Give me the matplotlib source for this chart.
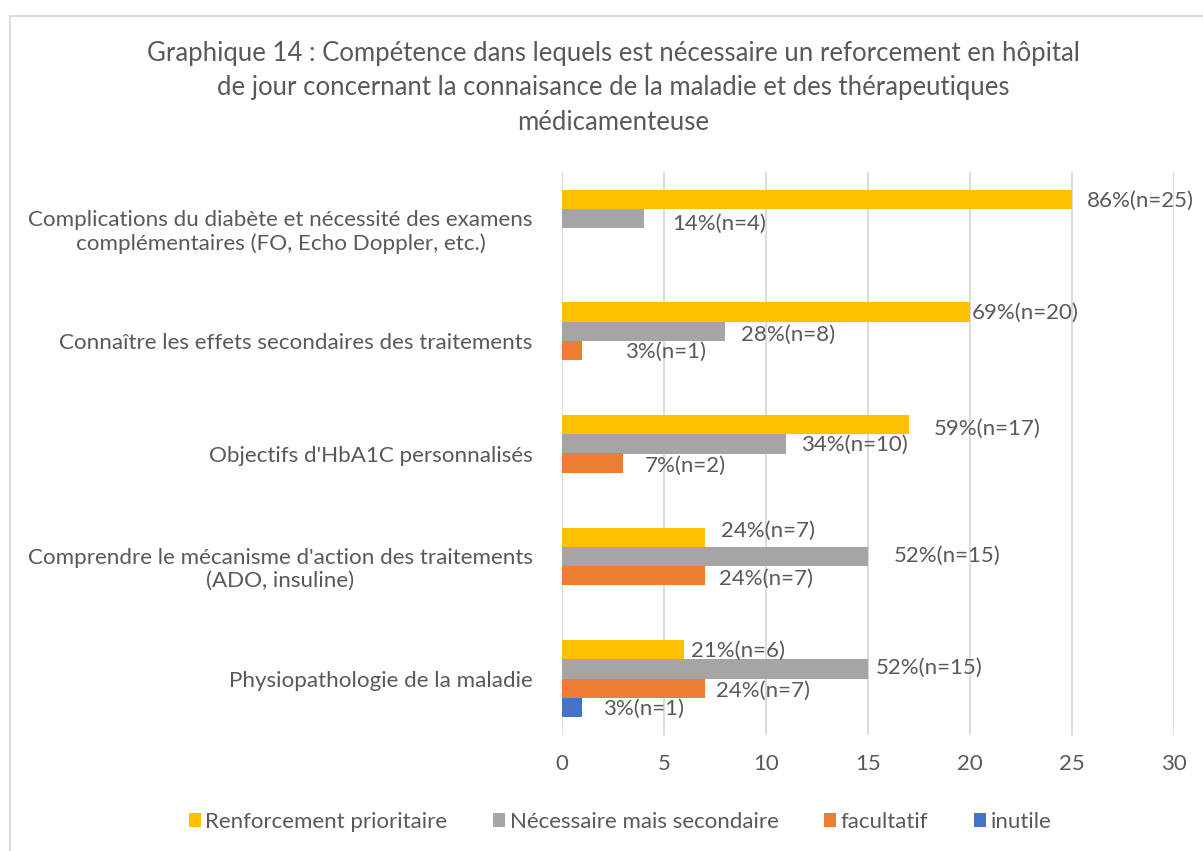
import matplotlib
matplotlib.use("Agg")
import matplotlib.pyplot as plt
from matplotlib.patches import Patch
from matplotlib.lines import Line2D
import numpy as np

plt.rcParams['font.family'] = ['Lato', 'DejaVu Sans']

# categories, top to bottom
categories = [
    "Complications du diabète et nécessité des examens\ncomplémentaires (FO, Echo Doppler, etc.)",
    "Connaître les effets secondaires des traitements",
    "Objectifs d'HbA1C personnalisés",
    "Comprendre le mécanisme d'action des traitements\n(ADO, insuline)",
    "Physiopathologie de la maladie",
]
series_names = ["Renforcement prioritaire", "Nécessaire mais secondaire", "facultatif", "inutile"]
# bar lengths as drawn
prioritaire = [25, 20, 17, 7, 6]
secondaire = [4, 8, 11, 15, 15]
facultatif = [0, 1, 3, 7, 7]
inutile = [0, 0, 0, 0, 1]
# data labels as printed
labels_prio = ["86%(n=25)", "69%(n=20)", "59%(n=17)", "24%(n=7)", "21%(n=6)"]
labels_sec = ["14%(n=4)", "28%(n=8)", "34%(n=10)", "52%(n=15)", "52%(n=15)"]
labels_fac = ["", "3%(n=1)", "7%(n=2)", "24%(n=7)", "24%(n=7)"]
labels_inu = ["", "", "", "", "3%(n=1)"]

colors = ["#FFC000", "#A5A5A5", "#ED7D31", "#4472C4"]
text_col = "#595959"

# label placement (x centre in data units, y shift in pixels downwards)
lab_x = [
    [28.33, 22.70, 20.83, 10.10, 8.63],
    [7.70, 11.08, 14.31, 18.87, 17.99],
    [0, 5.05, 6.03, 10.0, 9.85],
    [0, 0, 0, 0, 4.02],
]
lab_dy = [
    [2, 1, 4, -6, 1],
    [5, 4, 1, -1, -1],
    [0, 1, 3, 3, 3],
    [0, 0, 0, 0, 1],
]

W, H = 1203, 851
fig = plt.figure(figsize=(W / 100, H / 100), dpi=100)
ax = fig.add_axes([562 / W, 1 - 735 / H, (1174 - 562) / W, (735 - 172) / H])

n = len(categories)
ypos = np.arange(n)[::-1]
h = 19.3 / 112.6
offs = [1.5 * h, 0.5 * h, -0.5 * h, -1.5 * h]

all_series = [prioritaire, secondaire, facultatif, inutile]
all_labels = [labels_prio, labels_sec, labels_fac, labels_inu]
for s, vals in enumerate(all_series):
    ax.barh(ypos + offs[s], vals, height=h, color=colors[s], zorder=3)
    for i, txt in enumerate(all_labels[s]):
        if not txt:
            continue
        ax.text(lab_x[s][i], ypos[i] + offs[s] - lab_dy[s][i] / 112.6, txt,
                ha="center", va="center", fontsize=16, color=text_col, zorder=4)

ax.set_xlim(0, 30)
ax.set_ylim(-0.5, n - 0.5)
ax.set_xticks(range(0, 31, 5))
ax.set_yticks(ypos)
ax.set_yticklabels(categories, fontsize=16.1, color=text_col, multialignment="center")
ax.tick_params(axis="x", length=0, pad=14, labelsize=16, labelcolor=text_col)
ax.tick_params(axis="y", length=0, pad=21)
ax.grid(axis="x", color="#D9D9D9", linewidth=1.3, zorder=0)
for sp in ax.spines.values():
    sp.set_visible(False)

fig.text(613 / W, 1 - 88 / H,
         "Graphique 14 : Compétence dans lequels est nécessaire un reforcement en hôpital\n"
         "de jour concernant la connaisance de la maladie et des thérapeutiques\n"
         "médicamenteuse",
         ha="center", va="center", fontsize=18.5, color=text_col, linespacing=1.45)

handles = [Patch(facecolor=c, edgecolor="none") for c in colors]
fig.legend(handles, series_names, loc="center", bbox_to_anchor=(620 / W, 1 - 822 / H),
           ncol=4, frameon=False, fontsize=16, labelcolor=text_col,
           handlelength=0.55, handleheight=0.55, handletextpad=0.2, columnspacing=2.05)

# chart border
fig.add_artist(Line2D([10 / W, 1], [1 - 16 / H, 1 - 16 / H], color="#D9D9D9", lw=1.3))
fig.add_artist(Line2D([10 / W, 10 / W], [0, 1 - 16 / H], color="#D9D9D9", lw=1.3))

fig.savefig("out.png", dpi=100)
